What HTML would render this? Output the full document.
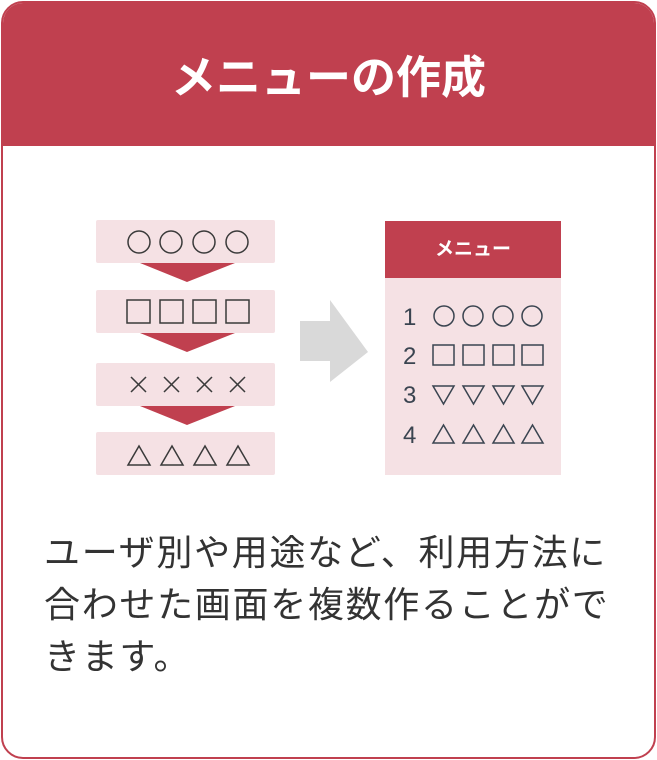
<!DOCTYPE html>
<html><head><meta charset="utf-8"><style>
html,body{margin:0;padding:0;background:#fff;}
.card{position:absolute;left:1px;top:1px;width:651px;height:754px;border:2px solid #c0404f;border-radius:22px;overflow:hidden;background:#fff;}
.hd{position:absolute;left:0;top:0;width:100%;height:143px;background:#c0404f;color:#fff;font:bold 45px "Liberation Sans","Noto Sans CJK JP",sans-serif;text-align:center;line-height:150px;letter-spacing:0px;}
.txt{position:absolute;left:44px;top:527px;font:36px "Liberation Sans","Noto Sans CJK JP",sans-serif;color:#333;line-height:52px;letter-spacing:1.7px;}
svg{position:absolute;left:0;top:0;}
</style></head><body>
<div class="card"><div class="hd">メニューの作成</div></div>
<svg width="657" height="760" font-family="Liberation Sans, Noto Sans CJK JP, sans-serif">
<g fill="#f5e1e4">
<rect x="96" y="220" width="179" height="43" rx="2"/>
<rect x="96" y="290" width="179" height="43" rx="2"/>
<rect x="96" y="363" width="179" height="43" rx="2"/>
<rect x="96" y="432" width="179" height="43" rx="2"/>
<rect x="385" y="278" width="176" height="197"/>
</g>
<g fill="#c0404f">
<polygon points="140,263 235,263 187,282"/>
<polygon points="140,333 235,333 187,352"/>
<polygon points="140,406 235,406 187,425"/>
<rect x="385" y="221" width="176" height="57"/>
</g>
<polygon points="300,321 330,321 330,300 368,352 330,382 330,361 300,361" fill="#d9d9d9"/>
<text x="473" y="255" fill="#fff" font-size="19" font-weight="bold" text-anchor="middle">メニュー</text>
<g fill="none" stroke="#3a3a3a" stroke-width="1.5">
<circle cx="139" cy="242" r="11"/><circle cx="171" cy="242" r="11"/><circle cx="204" cy="242" r="11"/><circle cx="237" cy="242" r="11"/>
<rect x="127" y="300" width="23" height="23"/><rect x="160" y="300" width="23" height="23"/><rect x="193" y="300" width="23" height="23"/><rect x="226" y="300" width="23" height="23"/>
<path d="M131,377l15,15M146,377l-15,15M164,377l15,15M179,377l-15,15M197,377l15,15M212,377l-15,15M230,377l15,15M245,377l-15,15"/>
<path d="M128,465l11,-19l11,19zM161,465l11,-19l11,19zM194,465l11,-19l11,19zM227,465l11,-19l11,19z"/>
<g stroke="#3a4450">
<circle cx="444" cy="316" r="10"/><circle cx="473" cy="316" r="10"/><circle cx="503" cy="316" r="10"/><circle cx="532" cy="316" r="10"/>
<rect x="433" y="345" width="21" height="20"/><rect x="463" y="345" width="21" height="20"/><rect x="493" y="345" width="21" height="20"/><rect x="522" y="345" width="21" height="20"/>
<path d="M433,386h21l-10.5,18zM463,386h21l-10.5,18zM493,386h21l-10.5,18zM522,386h21l-10.5,18z"/>
<path d="M433,443l10.5,-18l10.5,18zM463,443l10.5,-18l10.5,18zM493,443l10.5,-18l10.5,18zM522,443l10.5,-18l10.5,18z"/>
</g>
</g>
<g fill="#3a4450" font-size="24">
<text x="403" y="325">1</text><text x="403" y="364">2</text><text x="403" y="403">3</text><text x="403" y="443">4</text>
</g>
</svg>
<div class="txt">ユーザ別や用途など、利用方法に<br>合わせた画面を複数作ることがで<br>きます。</div>
</body></html>
